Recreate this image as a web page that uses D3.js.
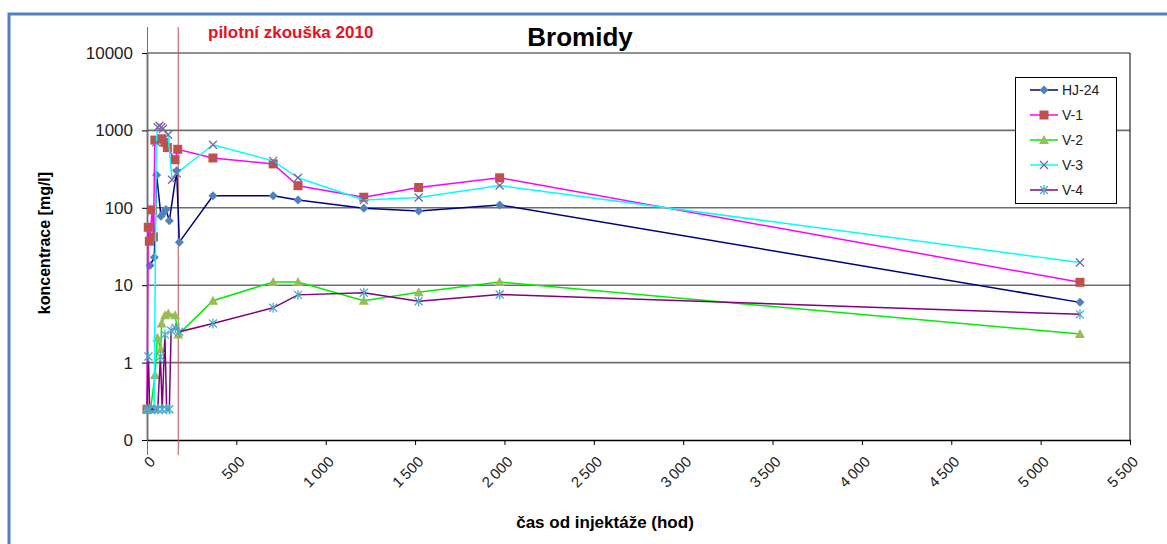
<!DOCTYPE html>
<html>
<head>
<meta charset="utf-8">
<script src="https://cdn.jsdelivr.net/npm/d3@7"></script>
<style>
  body { margin: 0; background: #fff; }
  svg { font-family: "Liberation Sans", Arial, sans-serif; }
</style>
</head>
<body>
<svg id="svg1" width="1167" height="544"></svg>
<script>
// data (hours since injection, concentration mg/l)
let hj24X = [17, 41, 54, 78, 91, 106, 125, 166, 181, 369, 706, 845, 1213, 1520, 1973, 5220];
let hj24Y = [18, 23, 265, 78, 85, 95, 68, 300, 36, 143, 143, 126, 99, 91, 109, 6.0];

let v1X = [0, 7, 13, 30, 36, 44, 82, 100, 114, 157, 172, 369, 706, 845, 1213, 1520, 1973, 5220];
let v1Y = [0.25, 56, 37, 94, 42, 750, 780, 700, 600, 418, 570, 440, 369, 193, 137, 183, 244, 10.9];

let v2X = [0, 20, 45, 58, 77, 82, 101, 119, 157, 175, 369, 706, 845, 1213, 1520, 1973, 5220];
let v2Y = [0.25, 0.25, 0.69, 2.1, 1.5, 3.2, 4.1, 4.3, 4.1, 2.3, 6.3, 11, 11, 6.3, 8.1, 11, 2.34];

let v3X = [0, 20, 40, 52, 60, 70, 80, 90, 118, 140, 166, 369, 706, 845, 1213, 1520, 1973, 5220];
let v3Y = [0.25, 0.25, 0.25, 700, 1100, 1150, 1100, 1050, 880, 230, 280, 653, 404, 244, 126, 136, 194, 19.6];

let v4X = [0, 8, 15, 45, 60, 75, 85, 100, 110, 125, 135, 160, 180, 369, 706, 845, 1213, 1520, 1973, 5220];
let v4Y = [0.25, 1.2, 0.25, 0.25, 0.25, 1.2, 0.25, 2.3, 0.25, 0.25, 2.6, 2.8, 2.5, 3.2, 5.1, 7.5, 8.0, 6.2, 7.6, 4.2];

let seriesNames = ["HJ-24", "V-1", "V-2", "V-3", "V-4"];
let xTicks = [0, 500, 1000, 1500, 2000, 2500, 3000, 3500, 4000, 4500, 5000, 5500];
let yTicks = [0.1, 1, 10, 100, 1000, 10000];
let pilotBounds = [0, 172];

let series = [
  {name: seriesNames[0], xs: hj24X, ys: hj24Y, line: "#000080", mark: "#4F81BD", sym: "diamond"},
  {name: seriesNames[1], xs: v1X, ys: v1Y, line: "#FF00FF", mark: "#C0504D", sym: "square"},
  {name: seriesNames[2], xs: v2X, ys: v2Y, line: "#00EE00", mark: "#9BBB59", sym: "triangle"},
  {name: seriesNames[3], xs: v3X, ys: v3Y, line: "#00FFFF", mark: "#8064A2", sym: "x"},
  {name: seriesNames[4], xs: v4X, ys: v4Y, line: "#800080", mark: "#4BACC6", sym: "star"}
];

let svg = d3.select("#svg1");

// outer frame
svg.append("rect")
  .attr("x", 9).attr("y", 14).attr("width", 1180).attr("height", 560)
  .attr("fill", "none").attr("stroke", "#4F81BD").attr("stroke-width", 3);

let plotL = 147, plotR = 1130, plotT = 53, plotB = 440;
let x = d3.scaleLinear().domain([0, 5500]).range([plotL, plotR]);
let y = d3.scaleLog().domain([0.1, 10000]).range([plotB, plotT]);

// gridlines
svg.append("g").selectAll("line")
  .data(yTicks.slice(1))
  .enter().append("line")
    .attr("x1", plotL).attr("x2", plotR)
    .attr("y1", d => y(d)).attr("y2", d => y(d))
    .attr("stroke", "#6e6e6e").attr("stroke-width", 1.6);

// right border of plot area
svg.append("line")
  .attr("x1", plotR).attr("x2", plotR).attr("y1", plotT).attr("y2", plotB)
  .attr("stroke", "#000").attr("stroke-width", 1);

// axes
let xAxis = svg.append("g")
  .attr("transform", `translate(0,${plotB})`)
  .call(d3.axisBottom(x).tickValues(xTicks).tickSize(5).tickSizeOuter(0)
    .tickFormat(d => d3.format(",")(d).replace(",", "\u2009")));
xAxis.select(".domain").attr("stroke", "#000").attr("stroke-width", 1.5);
xAxis.selectAll(".tick text")
  .style("font-size", "15px").attr("fill", "#222")
  .style("text-anchor", "end")
  .attr("x", 0).attr("y", 0).attr("dy", "0.35em")
  .attr("transform", "translate(5,19) rotate(-45)");

let yAxis = svg.append("g")
  .attr("transform", `translate(${plotL},0)`)
  .call(d3.axisLeft(y).tickValues(yTicks).tickSize(5).tickSizeOuter(0)
    .tickFormat(d => d < 1 ? "0" : d3.format("d")(d)));
yAxis.select(".domain").attr("stroke", "#000").attr("stroke-width", 1.5);
yAxis.selectAll(".tick text").style("font-size", "17px").attr("fill", "#222").attr("dx", "-6");

// pilot test bounds
svg.append("g").selectAll("line")
  .data(pilotBounds)
  .enter().append("line")
    .attr("x1", d => x(d) + 0.5).attr("x2", d => x(d) + 0.5)
    .attr("y1", 27).attr("y2", 455)
    .attr("stroke", "#C0504D").attr("stroke-width", 1);

svg.append("text")
  .attr("x", 208).attr("y", 38)
  .style("font-size", "17px").style("font-weight", "bold")
  .attr("fill", "#E8121B")
  .text("pilotní zkouška 2010");

svg.append("text")
  .attr("x", 580).attr("y", 46).attr("text-anchor", "middle")
  .style("font-size", "26px").style("font-weight", "bold")
  .text("Bromidy");

svg.append("text")
  .attr("transform", "translate(50,243) rotate(-90)")
  .attr("text-anchor", "middle")
  .style("font-size", "16px").style("font-weight", "bold")
  .text("koncentrace [mg/l]");

svg.append("text")
  .attr("x", 605).attr("y", 528).attr("text-anchor", "middle")
  .style("font-size", "17px").style("font-weight", "bold")
  .text("čas od injektáže (hod)");

// marker drawing
function drawMarker(g, s, cx, cy) {
  if (s.sym === "diamond") {
    g.append("path").attr("d", `M${cx},${cy - 4.5}L${cx + 4.5},${cy}L${cx},${cy + 4.5}L${cx - 4.5},${cy}Z`)
      .attr("fill", s.mark);
  } else if (s.sym === "square") {
    g.append("rect").attr("x", cx - 4.5).attr("y", cy - 4.5).attr("width", 9).attr("height", 9)
      .attr("fill", s.mark);
  } else if (s.sym === "triangle") {
    g.append("path").attr("d", `M${cx},${cy - 5}L${cx + 5},${cy + 4}L${cx - 5},${cy + 4}Z`)
      .attr("fill", s.mark);
  } else if (s.sym === "x") {
    g.append("path").attr("d", `M${cx - 4},${cy - 4}L${cx + 4},${cy + 4}M${cx - 4},${cy + 4}L${cx + 4},${cy - 4}`)
      .attr("stroke", s.mark).attr("stroke-width", 1.3).attr("fill", "none");
  } else {
    g.append("path").attr("d", `M${cx - 4},${cy - 4}L${cx + 4},${cy + 4}M${cx - 4},${cy + 4}L${cx + 4},${cy - 4}M${cx},${cy - 5}L${cx},${cy + 5}`)
      .attr("stroke", s.mark).attr("stroke-width", 1.3).attr("fill", "none");
  }
}

let line = d3.line().x(d => x(d[0])).y(d => y(d[1]));

series.forEach(s => {
  let pts = s.xs.map((v, i) => [v, s.ys[i]]);
  let g = svg.append("g");
  g.append("path").datum(pts)
    .attr("d", line)
    .attr("fill", "none").attr("stroke", s.line).attr("stroke-width", 1.5);
  pts.forEach(p => drawMarker(g, s, x(p[0]), y(p[1])));
});

// legend
let lg = svg.append("g");
lg.append("rect")
  .attr("x", 1015.5).attr("y", 77.5).attr("width", 101).attr("height", 126)
  .attr("fill", "#fff").attr("stroke", "#000").attr("stroke-width", 1);
series.forEach((s, i) => {
  let ly = 90 + i * 25;
  lg.append("line").attr("x1", 1030).attr("x2", 1058).attr("y1", ly).attr("y2", ly)
    .attr("stroke", s.line).attr("stroke-width", 1.5);
  drawMarker(lg, s, 1044, ly);
  lg.append("text").attr("x", 1062).attr("y", ly + 5)
    .style("font-size", "14px").attr("fill", "#222")
    .text(s.name);
});
</script>
</body>
</html>
